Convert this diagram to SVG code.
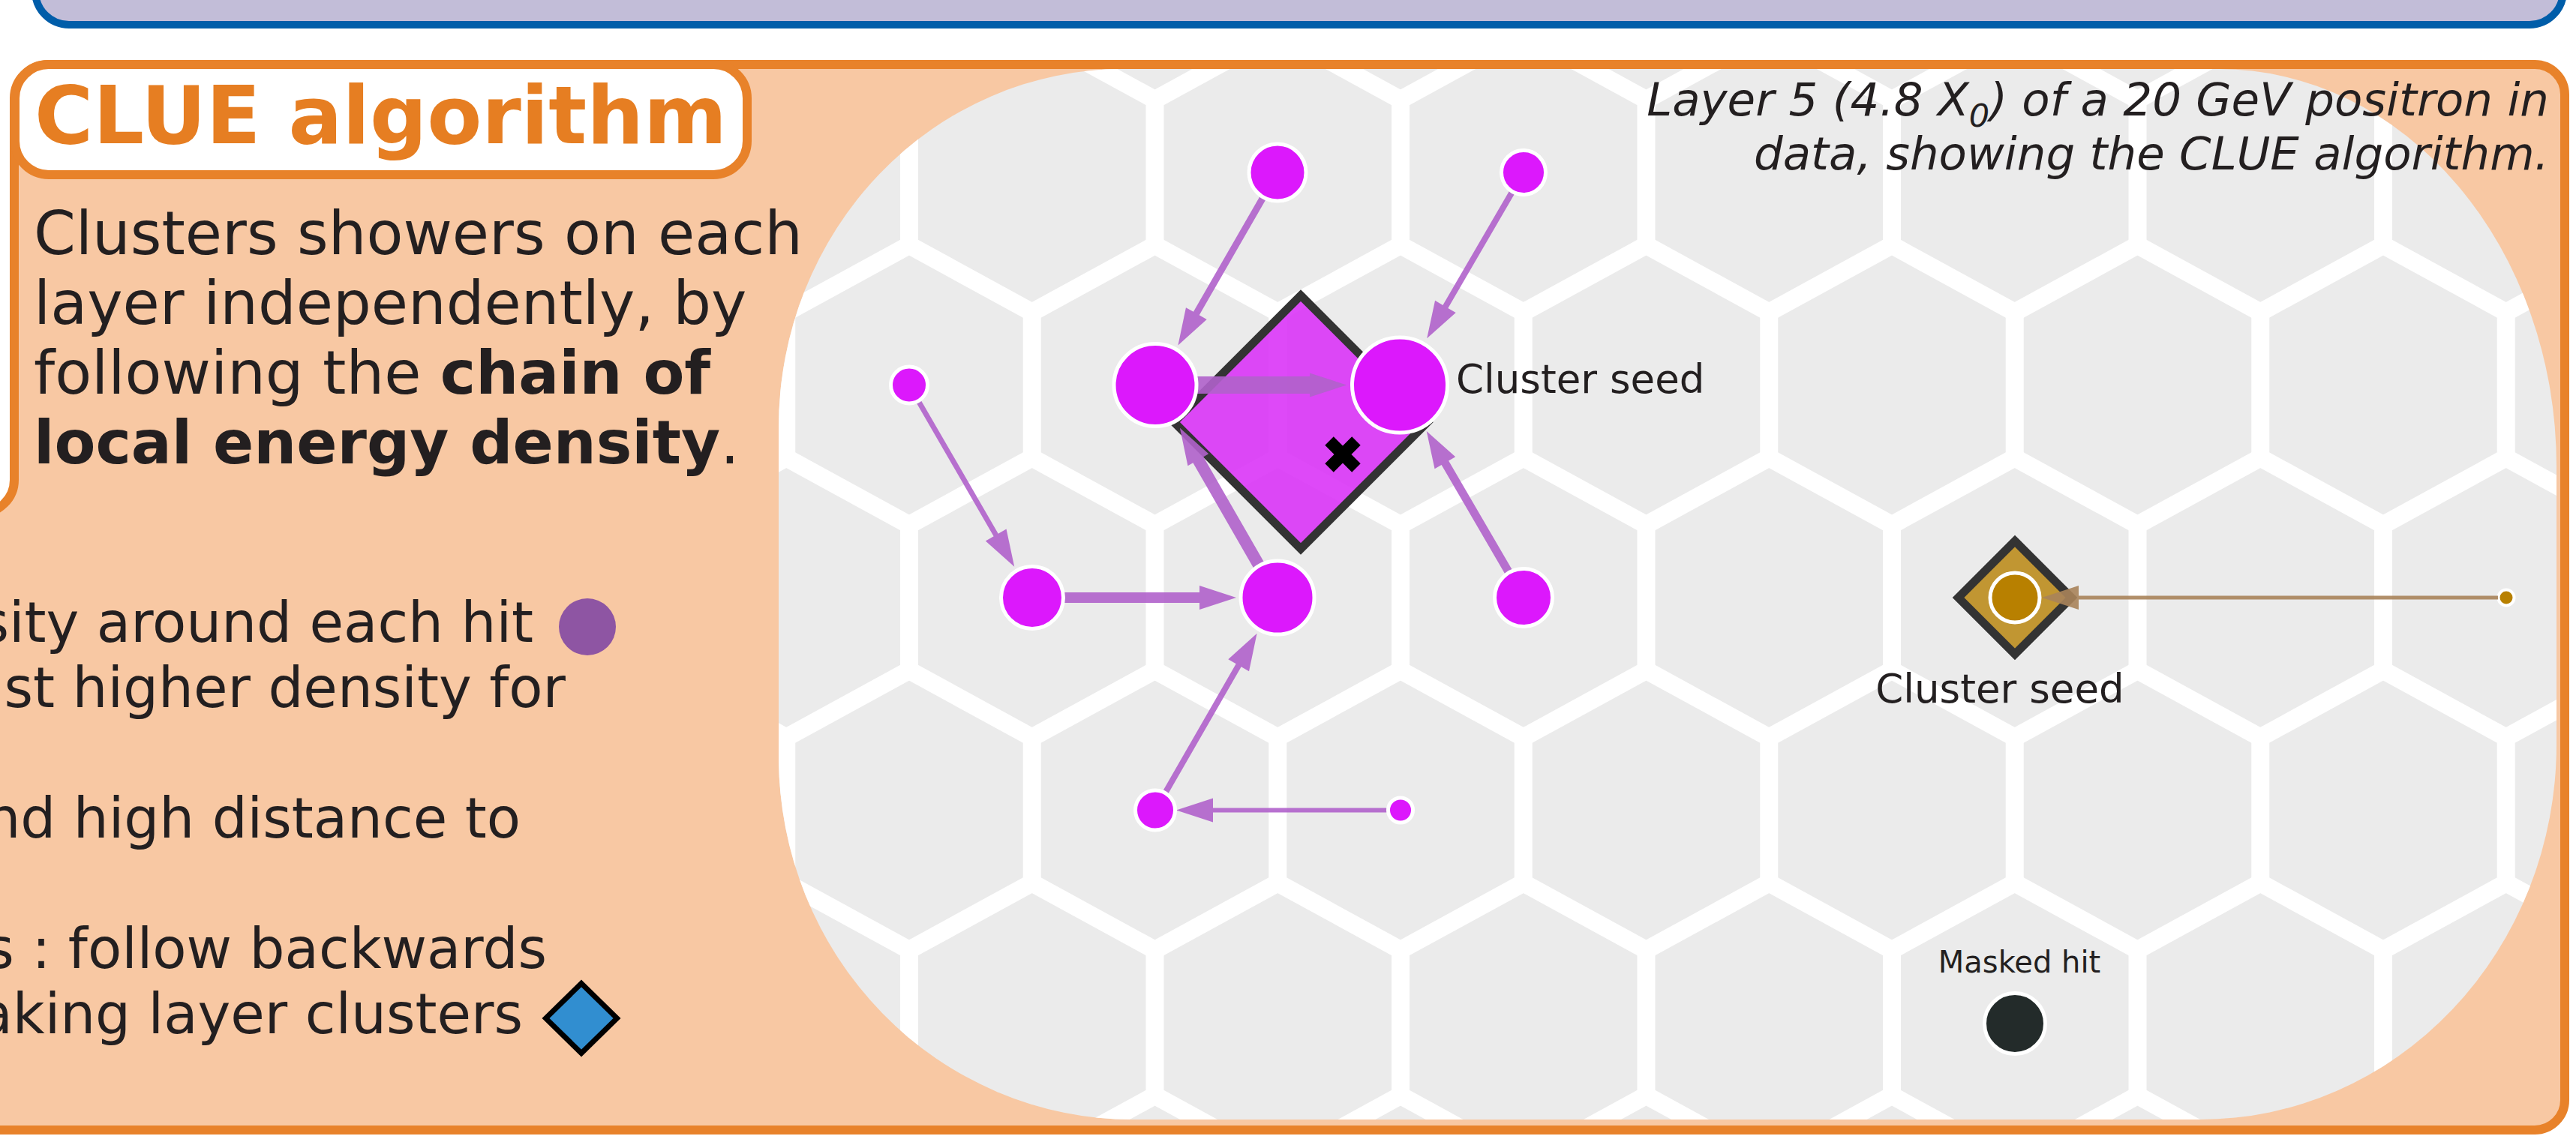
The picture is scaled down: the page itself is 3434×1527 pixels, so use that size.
<svg xmlns="http://www.w3.org/2000/svg" width="3434" height="1527" viewBox="0 0 3434 1527">
<defs>
<style>
.hex{fill:none;stroke:#ffffff;stroke-width:24;stroke-linejoin:miter;stroke-linecap:butt}
.hit{fill:#dc18fc;stroke:#ffffff;stroke-width:5}
.arrow{fill:#b062cb;fill-opacity:0.9}
.garrow{fill:#a9835a;fill-opacity:0.9}
.txt{font-family:"DejaVu Sans","Liberation Sans",sans-serif;fill:#231f20}
.body{font-size:80px}
.low{font-size:74px}
.cap{font-size:61px;font-style:italic}
.lbl{font-size:53px}
</style>
<clipPath id="grayClip">
<path d="M1497,92 H2958 A450,530 0 0 1 3408,622 V993 A475,500 0 0 1 2933,1493 H1510 A472,484 0 0 1 1038,1009 V570 A459,478 0 0 1 1497,92 Z"/>
</clipPath>
</defs>
<rect width="3434" height="1527" fill="#ffffff"/>
<g id="header-box">
<rect x="47" y="-100" width="3370" height="133" rx="45" fill="#c2bdd8" stroke="#005da9" stroke-width="10"/>
</g>
<g id="panel">
<path d="M64,86 H3379 A40,40 0 0 1 3419,126 V1467 A40,40 0 0 1 3379,1507 H-40 V684 H-25 A44,44 0 0 0 19,640 V131 A45,45 0 0 1 64,86 Z" fill="#f8c8a3"/>
</g>
<g id="hexmap" clip-path="url(#grayClip)">
<rect x="1000" y="80" width="2430" height="1430" fill="#ebebeb"/>
<path class="hex" d="M720.75,43.5 L884.5,133 L1048.25,43.5 L1212,133 L1375.75,43.5 L1539.5,133 L1703.25,43.5 L1867,133 L2030.75,43.5 L2194.5,133 L2358.25,43.5 L2522,133 L2685.75,43.5 L2849.5,133 L3013.25,43.5 L3177,133 L3340.75,43.5 L3504.5,133 L3668.25,43.5"/>
<path class="hex" d="M720.75,416.5 L884.5,327 L1048.25,416.5 L1212,327 L1375.75,416.5 L1539.5,327 L1703.25,416.5 L1867,327 L2030.75,416.5 L2194.5,327 L2358.25,416.5 L2522,327 L2685.75,416.5 L2849.5,327 L3013.25,416.5 L3177,327 L3340.75,416.5 L3504.5,327 L3668.25,416.5"/>
<path class="hex" d="M720.75,610.5 L884.5,700 L1048.25,610.5 L1212,700 L1375.75,610.5 L1539.5,700 L1703.25,610.5 L1867,700 L2030.75,610.5 L2194.5,700 L2358.25,610.5 L2522,700 L2685.75,610.5 L2849.5,700 L3013.25,610.5 L3177,700 L3340.75,610.5 L3504.5,700 L3668.25,610.5"/>
<path class="hex" d="M720.75,983.5 L884.5,894 L1048.25,983.5 L1212,894 L1375.75,983.5 L1539.5,894 L1703.25,983.5 L1867,894 L2030.75,983.5 L2194.5,894 L2358.25,983.5 L2522,894 L2685.75,983.5 L2849.5,894 L3013.25,983.5 L3177,894 L3340.75,983.5 L3504.5,894 L3668.25,983.5"/>
<path class="hex" d="M720.75,1177.5 L884.5,1267 L1048.25,1177.5 L1212,1267 L1375.75,1177.5 L1539.5,1267 L1703.25,1177.5 L1867,1267 L2030.75,1177.5 L2194.5,1267 L2358.25,1177.5 L2522,1267 L2685.75,1177.5 L2849.5,1267 L3013.25,1177.5 L3177,1267 L3340.75,1177.5 L3504.5,1267 L3668.25,1177.5"/>
<path class="hex" d="M720.75,1550.5 L884.5,1461 L1048.25,1550.5 L1212,1461 L1375.75,1550.5 L1539.5,1461 L1703.25,1550.5 L1867,1461 L2030.75,1550.5 L2194.5,1461 L2358.25,1550.5 L2522,1461 L2685.75,1550.5 L2849.5,1461 L3013.25,1550.5 L3177,1461 L3340.75,1550.5 L3504.5,1461 L3668.25,1550.5"/>
<path class="hex" d="M884.5,133V327M1212,133V327M1539.5,133V327M1867,133V327M2194.5,133V327M2522,133V327M2849.5,133V327M3177,133V327M3504.5,133V327
M884.5,700V894M1212,700V894M1539.5,700V894M1867,700V894M2194.5,700V894M2522,700V894M2849.5,700V894M3177,700V894M3504.5,700V894
M884.5,1267V1461M1212,1267V1461M1539.5,1267V1461M1867,1267V1461M2194.5,1267V1461M2522,1267V1461M2849.5,1267V1461M3177,1267V1461M3504.5,1267V1461
M720.75,416.5V610.5M1048.25,416.5V610.5M1375.75,416.5V610.5M1703.25,416.5V610.5M2030.75,416.5V610.5M2358.25,416.5V610.5M2685.75,416.5V610.5M3013.25,416.5V610.5M3340.75,416.5V610.5
M720.75,983.5V1177.5M1048.25,983.5V1177.5M1375.75,983.5V1177.5M1703.25,983.5V1177.5M2030.75,983.5V1177.5M2358.25,983.5V1177.5M2685.75,983.5V1177.5M3013.25,983.5V1177.5M3340.75,983.5V1177.5"/>
</g>
<path id="panel-border" d="M64,86 H3379 A40,40 0 0 1 3419,126 V1467 A40,40 0 0 1 3379,1507 H-40 V684 H-25 A44,44 0 0 0 19,640 V131 A45,45 0 0 1 64,86 Z" fill="none" stroke="#e8822a" stroke-width="12"/>
<g id="title">
<rect x="20" y="86" width="976" height="147" rx="45" fill="#ffffff" stroke="#e8822a" stroke-width="12"/>
<text x="46" y="191" font-family="DejaVu Sans, Liberation Sans, sans-serif" font-weight="bold" font-size="106.5" fill="#e67e22">CLUE algorithm</text>
</g>
<g id="description">
<text class="txt body" x="45" y="339">Clusters showers on each</text>
<text class="txt body" x="45" y="432">layer independently, by</text>
<text class="txt body" x="45" y="525">following the <tspan font-weight="bold">chain of</tspan></text>
<text class="txt body" x="45" y="618"><tspan font-weight="bold">local energy density</tspan>.</text>
</g>
<g id="legend">
<text class="txt low" x="711" y="856" text-anchor="end">sity around each hit</text>
<circle cx="783" cy="836" r="38" fill="#8e55a3"/>
<text class="txt low" x="754" y="943" text-anchor="end">st higher density for</text>
<text class="txt low" x="694" y="1117" text-anchor="end">nd high distance to</text>
<text class="txt low" x="729" y="1291" text-anchor="end">s : follow backwards</text>
<text class="txt low" x="697" y="1378" text-anchor="end">aking layer clusters</text>
<polygon points="775,1311.5 822.5,1358 775,1404.5 727.5,1358" fill="#318ed0" stroke="#000000" stroke-width="7" stroke-linejoin="miter"/>
</g>
<g id="caption">
<text class="txt cap" x="3398" y="154" text-anchor="end">Layer 5 (4.8 X<tspan font-size="43" dy="15">0</tspan><tspan dy="-15">) of a 20 GeV positron in</tspan></text>
<text class="txt cap" x="3398" y="226" text-anchor="end">data, showing the CLUE algorithm.</text>
</g>
<g id="cluster-1">
<polygon points="1734,394 1903,563 1734,732 1565,563" fill="#d930f7" fill-opacity="0.88" stroke="#333333" stroke-width="11"/>
<polygon points="1790,594.5 1802.2,582.3 1813.7,593.8 1801.5,606 1813.7,618.2 1802.2,629.7 1790,617.5 1777.8,629.7 1766.3,618.2 1778.5,606 1766.3,593.8 1777.8,582.3" fill="#000000"/>
</g>
<g id="cluster-2">
<polygon points="2686,721.5 2761.5,797 2686,872.5 2610.5,797" fill="#c19632" stroke="#333333" stroke-width="11"/>
</g>
<g id="connectors">
<polygon class="arrow" transform="translate(1703,230) rotate(119.9)" points="36,-4.5 217,-4.5 217,-16 266,0 217,16 217,4.5 36,4.5"/>
<polygon class="arrow" transform="translate(2031,230) rotate(120.2)" points="30,-4 207,-4 207,-16 256,0 207,16 207,4 30,4"/>
<polygon class="arrow" transform="translate(1212,513.5) rotate(59.95)" points="25,-3.5 231,-3.5 231,-16 280,0 231,16 231,3.5 25,3.5"/>
<polygon class="arrow" transform="translate(1376,797)" points="42,-7 223,-7 223,-16 272,0 223,16 223,7 42,7"/>
<polygon class="arrow" transform="translate(1540,513.5)" points="55,-11.5 206,-11.5 206,-16 255,0 206,16 206,11.5 55,11.5"/>
<polygon class="arrow" transform="translate(1703,797) rotate(-119.9)" points="49,-8 212,-8 212,-16 261,0 212,16 212,8 49,8"/>
<polygon class="arrow" transform="translate(2031,797) rotate(-120.2)" points="36,-5.5 208,-5.5 208,-16 257,0 208,16 208,5.5 36,5.5"/>
<polygon class="arrow" transform="translate(1540,1080.5) rotate(-60.1)" points="26,-4 223,-4 223,-16 272,0 223,16 223,4 26,4"/>
<polygon class="arrow" transform="translate(1867,1080.5) rotate(180)" points="17,-3 250,-3 250,-16 299,0 250,16 250,3 17,3"/>
</g>
<g id="hit-1"><circle class="hit" cx="1703" cy="230" r="38"/></g>
<g id="hit-2"><circle class="hit" cx="2031" cy="230" r="29.5"/></g>
<g id="hit-3"><circle class="hit" cx="1212" cy="513.5" r="24.5"/></g>
<g id="hit-4"><circle class="hit" cx="1540" cy="513.5" r="55"/></g>
<g id="hit-5"><circle class="hit" cx="1866" cy="513.5" r="63.5"/></g>
<g id="hit-6"><circle class="hit" cx="1376" cy="797" r="41.5"/></g>
<g id="hit-7"><circle class="hit" cx="1703" cy="797" r="49"/></g>
<g id="hit-8"><circle class="hit" cx="2031" cy="797" r="38.5"/></g>
<g id="hit-9"><circle class="hit" cx="1540" cy="1080.5" r="26.5"/></g>
<g id="hit-10"><circle class="hit" cx="1867" cy="1080.5" r="16.5"/></g>
<g id="gold-seed"><circle cx="2686" cy="797" r="33" fill="#b88000" stroke="#ffffff" stroke-width="5"/></g>
<g id="gold-hit"><circle cx="3341" cy="797" r="10.5" fill="#b88000" stroke="#ffffff" stroke-width="4"/></g>
<g id="gold-connector">
<polygon class="garrow" transform="translate(3341,797) rotate(180)" points="11,-2.5 570,-2.5 570,-16 619,0 570,16 570,2.5 11,2.5"/>
</g>
<g id="masked-hit"><circle cx="2686" cy="1365" r="40.5" fill="#232b2a" stroke="#ffffff" stroke-width="5"/></g>
<g id="labels">
<text class="txt lbl" x="1941" y="524">Cluster seed</text>
<text class="txt lbl" x="2666" y="937" text-anchor="middle">Cluster seed</text>
<text class="txt" x="2692" y="1297" font-size="40" text-anchor="middle">Masked hit</text>
</g>
</svg>
